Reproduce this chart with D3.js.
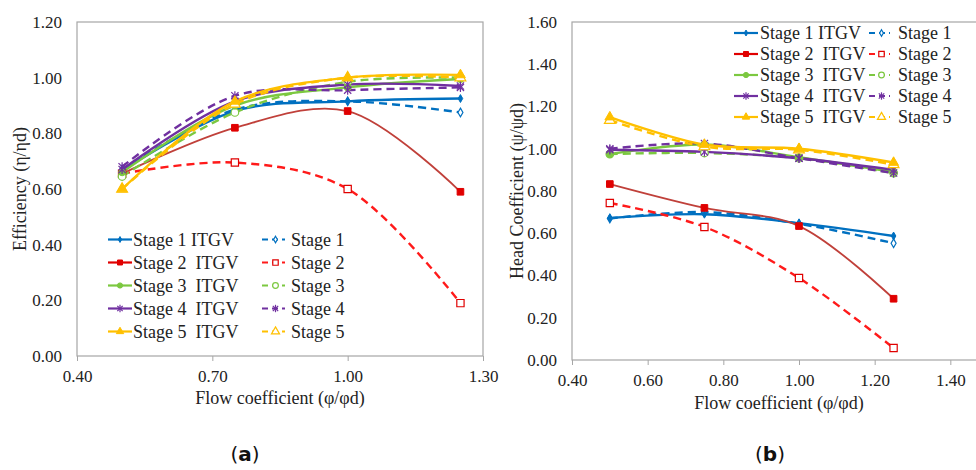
<!DOCTYPE html>
<html>
<head>
<meta charset="utf-8">
<script src="https://cdn.jsdelivr.net/npm/d3@7"></script>
<style>
  body { margin: 0; background: #fff; overflow: hidden; }
  svg { font-family: "Liberation Serif", "Times New Roman", serif; }
  text { white-space: pre; }
</style>
</head>
<body>
<svg id="chart" width="976" height="470"></svg>
<script>
// flow coefficient points (phi/phi_d)
const flowPoints = [0.5, 0.75, 1.0, 1.25];

const legendItgv = ['Stage 1 ITGV', 'Stage 2  ITGV', 'Stage 3  ITGV', 'Stage 4  ITGV', 'Stage 5  ITGV'];
const legendBase = ['Stage 1', 'Stage 2', 'Stage 3', 'Stage 4', 'Stage 5'];

// efficiency (eta/eta_d)
const effItgv = [
  [0.665, 0.880, 0.915, 0.925],
  [0.655, 0.820, 0.880, 0.590],
  [0.660, 0.900, 0.965, 0.995],
  [0.670, 0.915, 0.975, 0.970],
  [0.600, 0.915, 1.000, 1.010]
];
const effBase = [
  [0.670, 0.885, 0.915, 0.875],
  [0.655, 0.695, 0.600, 0.190],
  [0.645, 0.875, 0.985, 1.000],
  [0.680, 0.935, 0.955, 0.965],
  [0.600, 0.905, 1.000, 1.000]
];

// head coefficient (psi/psi_d)
const headItgv = [
  [0.672, 0.690, 0.648, 0.587],
  [0.833, 0.720, 0.634, 0.290],
  [0.975, 1.020, 0.960, 0.890],
  [0.995, 0.985, 0.955, 0.900],
  [1.150, 1.020, 1.000, 0.935]
];
const headBase = [
  [0.670, 0.700, 0.645, 0.553],
  [0.743, 0.630, 0.388, 0.057],
  [0.975, 0.980, 0.955, 0.885],
  [1.000, 1.025, 0.955, 0.885],
  [1.135, 1.010, 0.995, 0.925]
];

const effXTicks = [0.4, 0.7, 1.0, 1.3];
const effYTicks = [0, 0.2, 0.4, 0.6, 0.8, 1.0, 1.2];
const headXTicks = [0.4, 0.6, 0.8, 1.0, 1.2, 1.4];
const headYTicks = [0, 0.2, 0.4, 0.6, 0.8, 1.0, 1.2, 1.4, 1.6];

const stageColors = ['#0070C0', '#E00000', '#7CC840', '#7030A0', '#FFC000'];
const solidLineColors = ['#0070C0', '#C0403A', '#7CC840', '#7030A0', '#FFC000'];
const dashLineColors = ['#0070C0', '#FF1A1A', '#7CC840', '#7030A0', '#FFC000'];
const markerTypes = ['diamond', 'square', 'circle', 'star', 'triangle'];

const svg = d3.select('#chart');

// draw one marker of a given type at (x, y); k scales it
function drawMarker(g, type, x, y, color, filled, k = 1) {
  const fill = filled ? color : '#fff';
  if (type === 'star') {
    const s = 3.6 * k;
    const m = g.append('g').attr('stroke', color).attr('stroke-width', 1.2);
    m.append('line').attr('x1', x - s).attr('y1', y - s).attr('x2', x + s).attr('y2', y + s);
    m.append('line').attr('x1', x - s).attr('y1', y + s).attr('x2', x + s).attr('y2', y - s);
    m.append('line').attr('x1', x).attr('y1', y - s - 1).attr('x2', x).attr('y2', y + s + 1);
    return;
  }
  const symbols = {
    diamond: d3.symbolDiamond, square: d3.symbolSquare,
    circle: d3.symbolCircle, triangle: d3.symbolTriangle
  };
  const sizes = { diamond: 18, square: 44, circle: 38, triangle: 42 };
  g.append('path')
    .attr('d', d3.symbol().type(symbols[type]).size(sizes[type] * k * k * (filled ? 1 : 1.2))())
    .attr('transform', `translate(${x},${y})`)
    .attr('fill', fill)
    .attr('stroke', color)
    .attr('stroke-width', filled ? 1 : 1.2);
}

function drawPanel(opts) {
  const g = svg.append('g');
  const x = d3.scaleLinear().domain(opts.xDomain).range(opts.xRange);
  const y = d3.scaleLinear().domain(opts.yDomain).range(opts.yRange);

  // plot frame
  g.append('rect')
    .attr('x', opts.xRange[0]).attr('y', opts.yRange[1])
    .attr('width', opts.xRange[1] - opts.xRange[0])
    .attr('height', opts.yRange[0] - opts.yRange[1])
    .attr('fill', 'none').attr('stroke', '#A6A6A6').attr('stroke-width', 1.2);

  // axes
  const xAxis = g.append('g')
    .attr('transform', `translate(0,${opts.yRange[0]})`)
    .call(d3.axisBottom(x).tickValues(opts.xTicks).tickFormat(d3.format('.2f')).tickSize(5).tickPadding(9));
  const yAxis = g.append('g')
    .attr('transform', `translate(${opts.xRange[0]},0)`)
    .call(d3.axisLeft(y).tickValues(opts.yTicks).tickFormat(d3.format('.2f')).tickSize(0).tickPadding(15));
  [xAxis, yAxis].forEach(a => {
    a.select('.domain').remove();
    a.selectAll('line').attr('stroke', '#A6A6A6');
    a.selectAll('text').attr('font-size', 17).attr('fill', '#222')
      .attr('font-family', '"Liberation Serif", serif');
  });
  xAxis.selectAll('text').attr('dy', '0.71em');

  // axis titles
  g.append('text')
    .attr('x', opts.xTitlePos[0]).attr('y', opts.xTitlePos[1])
    .attr('text-anchor', 'middle').attr('font-size', 18).attr('fill', '#222')
    .text('Flow coefficient (φ/φd)');
  g.append('text')
    .attr('transform', `translate(${opts.yTitlePos[0]},${opts.yTitlePos[1]}) rotate(-90)`)
    .attr('text-anchor', 'middle').attr('dy', '0.35em').attr('font-size', 18).attr('fill', '#222')
    .text(opts.yTitle);

  const line = d3.line()
    .x((d, i) => x(flowPoints[i]))
    .y(d => y(d))
    .curve(d3.curveCatmullRom.alpha(0.5));

  // series
  for (let s = 0; s < 5; s++) {
    g.append('path').datum(opts.baseData[s])
      .attr('d', line).attr('fill', 'none')
      .attr('stroke', dashLineColors[s])
      .attr('stroke-width', 2.4).attr('stroke-dasharray', '8,5');
    g.append('path').datum(opts.itgvData[s])
      .attr('d', line).attr('fill', 'none')
      .attr('stroke', solidLineColors[s]).attr('stroke-width', s === 1 ? 1.8 : 2.4);
  }
  for (let s = 0; s < 5; s++) {
    opts.baseData[s].forEach((v, i) => drawMarker(g, markerTypes[s], x(flowPoints[i]), y(v), stageColors[s], false));
    opts.itgvData[s].forEach((v, i) => drawMarker(g, markerTypes[s], x(flowPoints[i]), y(v), stageColors[s], true));
  }

  // legend
  const lg = g.append('g');
  for (let s = 0; s < 5; s++) {
    const ly = opts.legend.y0 + s * opts.legend.dy;
    const c1 = opts.legend.col1, c2 = opts.legend.col2;
    lg.append('line').attr('x1', c1[0]).attr('x2', c1[1]).attr('y1', ly).attr('y2', ly)
      .attr('stroke', solidLineColors[s] === '#C0403A' ? '#E00000' : solidLineColors[s]).attr('stroke-width', 2.2);
    drawMarker(lg, markerTypes[s], (c1[0] + c1[1]) / 2, ly, stageColors[s], true, 0.75);
    lg.append('text').attr('x', c1[2]).attr('y', ly).attr('dy', '0.35em')
      .attr('font-size', 18).attr('fill', '#222').text(legendItgv[s]);
    lg.append('line').attr('x1', c2[0]).attr('x2', c2[1]).attr('y1', ly).attr('y2', ly)
      .attr('stroke', dashLineColors[s])
      .attr('stroke-width', 2.2).attr('stroke-dasharray', '6,4');
    drawMarker(lg, markerTypes[s], (c2[0] + c2[1]) / 2 + 2, ly, stageColors[s], false, 0.75);
    lg.append('text').attr('x', c2[2]).attr('y', ly).attr('dy', '0.35em')
      .attr('font-size', 18).attr('fill', '#222').text(legendBase[s]);
  }
}

// (a) efficiency
drawPanel({
  xDomain: [0.4, 1.3], xRange: [77, 483],
  yDomain: [0, 1.2], yRange: [356, 22],
  xTicks: effXTicks, yTicks: effYTicks,
  itgvData: effItgv, baseData: effBase,
  yTitle: 'Efficiency (η/ηd)',
  xTitlePos: [280, 404], yTitlePos: [20, 189],
  legend: { y0: 239.5, dy: 23, col1: [108, 132, 133], col2: [262, 285, 291] }
});

// (b) head coefficient
drawPanel({
  xDomain: [0.4, 1.6], xRange: [572, 1026],
  yDomain: [0, 1.6], yRange: [360, 22],
  xTicks: headXTicks, yTicks: headYTicks,
  itgvData: headItgv, baseData: headBase,
  yTitle: 'Head Coefficient (ψ/ψd)',
  xTitlePos: [779, 409], yTitlePos: [517, 191],
  legend: { y0: 33, dy: 21, col1: [734, 758, 760], col2: [869, 890, 898] }
});

// panel labels: regular parentheses around a bold letter
[['a', 245], ['b', 770]].forEach(([t, cx]) => {
  const parts = [['(', 'normal'], [t, 'bold'], [')', 'normal']];
  const nodes = parts.map(([str, w]) => svg.append('text').attr('y', 461)
    .attr('font-family', '"DejaVu Sans", sans-serif').attr('font-size', 20)
    .attr('font-weight', w).attr('fill', '#111').text(str));
  const widths = nodes.map(n => n.node().getComputedTextLength());
  let px = cx - d3.sum(widths) / 2;
  nodes.forEach((n, i) => { n.attr('x', px); px += widths[i]; });
});
</script>
</body>
</html>
